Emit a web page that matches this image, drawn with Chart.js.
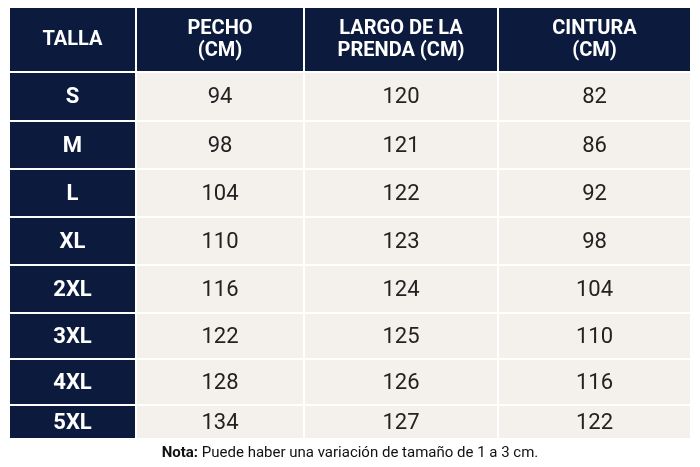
<!DOCTYPE html>
<html><head><meta charset="utf-8">
<script src="https://cdn.jsdelivr.net/npm/chart.js@4"></script>
<style>html,body{margin:0;padding:0;background:#fff}#wrap{width:700px;height:467px}</style>
</head><body><div id="wrap"><canvas id="c"></canvas></div>
<script>
const headers = [["TALLA"], ["PECHO", "(CM)"], ["LARGO DE LA", "PRENDA (CM)"], ["CINTURA", "(CM)"]];
const sizes = ["S", "M", "L", "XL", "2XL", "3XL", "4XL", "5XL"];
const pecho = [94, 98, 104, 110, 116, 122, 128, 134];
const largo = [120, 121, 122, 123, 124, 125, 126, 127];
const cintura = [82, 86, 92, 98, 104, 110, 116, 122];
const colEdges = [10, 136, 304, 498, 690];
const rowEdges = [8, 72, 121, 169, 217, 265, 313, 359, 405, 438];
const note = ["Nota:", " Puede haber una variación de tamaño de 1 a 3 cm."];

const tablePlugin = {
  id: 'table',
  afterDraw(chart) {
    const ctx = chart.ctx, xs = chart.scales.x, ys = chart.scales.y;
    const X = v => xs.getPixelForValue(v), Y = v => ys.getPixelForValue(v);
    const navy = '#0c1b3d', cream = '#f4f1ec', gap = 2;
    const cols = [sizes, pecho, largo, cintura];
    ctx.save();
    ctx.textAlign = 'center'; ctx.textBaseline = 'middle';
    for (let r = 0; r < rowEdges.length - 1; r++) {
      for (let c = 0; c < 4; c++) {
        const x0 = X(colEdges[c]) + (c ? gap / 2 : 0), x1 = X(colEdges[c + 1]) - (c < 3 ? gap / 2 : 0);
        const y0 = Y(rowEdges[r]) + (r ? gap / 2 : 0), y1 = Y(rowEdges[r + 1]) - (r < rowEdges.length - 2 ? gap / 2 : 0);
        const head = r === 0 || c === 0;
        ctx.fillStyle = head ? navy : cream;
        ctx.fillRect(x0, y0, x1 - x0, y1 - y0);
        const cx = (x0 + x1) / 2, cy = (y0 + y1) / 2;
        if (r === 0) {
          ctx.fillStyle = '#fff'; ctx.font = '700 20px Roboto';
          const lines = headers[c];
          lines.forEach((t, i) => ctx.fillText(t, cx, cy + (i - (lines.length - 1) / 2) * 22));
        } else {
          ctx.fillStyle = c === 0 ? '#fff' : '#222';
          ctx.font = c === 0 ? '700 22px Roboto' : '400 22px Roboto';
          ctx.fillText(String(cols[c][r - 1]), cx, cy + 1);
        }
      }
    }
    ctx.font = '700 15px Roboto';
    const w1 = ctx.measureText(note[0]).width;
    ctx.font = '400 15px Roboto';
    const w2 = ctx.measureText(note[1]).width;
    let sx = X(350) - (w1 + w2) / 2, sy = Y(453);
    ctx.textAlign = 'left'; ctx.fillStyle = '#111';
    ctx.font = '700 15px Roboto'; ctx.fillText(note[0], sx, sy);
    ctx.font = '400 15px Roboto'; ctx.fillText(note[1], sx + w1, sy);
    ctx.restore();
  }
};

new Chart(document.getElementById('c'), {
  type: 'scatter',
  data: { datasets: [{ data: [] }] },
  options: {
    responsive: true, maintainAspectRatio: false, animation: false,
    layout: { padding: 0 },
    plugins: { legend: { display: false }, tooltip: { enabled: false } },
    scales: {
      x: { type: 'linear', min: 0, max: 700, display: false },
      y: { type: 'linear', min: 0, max: 467, reverse: true, display: false }
    }
  },
  plugins: [tablePlugin]
});
</script></body></html>
